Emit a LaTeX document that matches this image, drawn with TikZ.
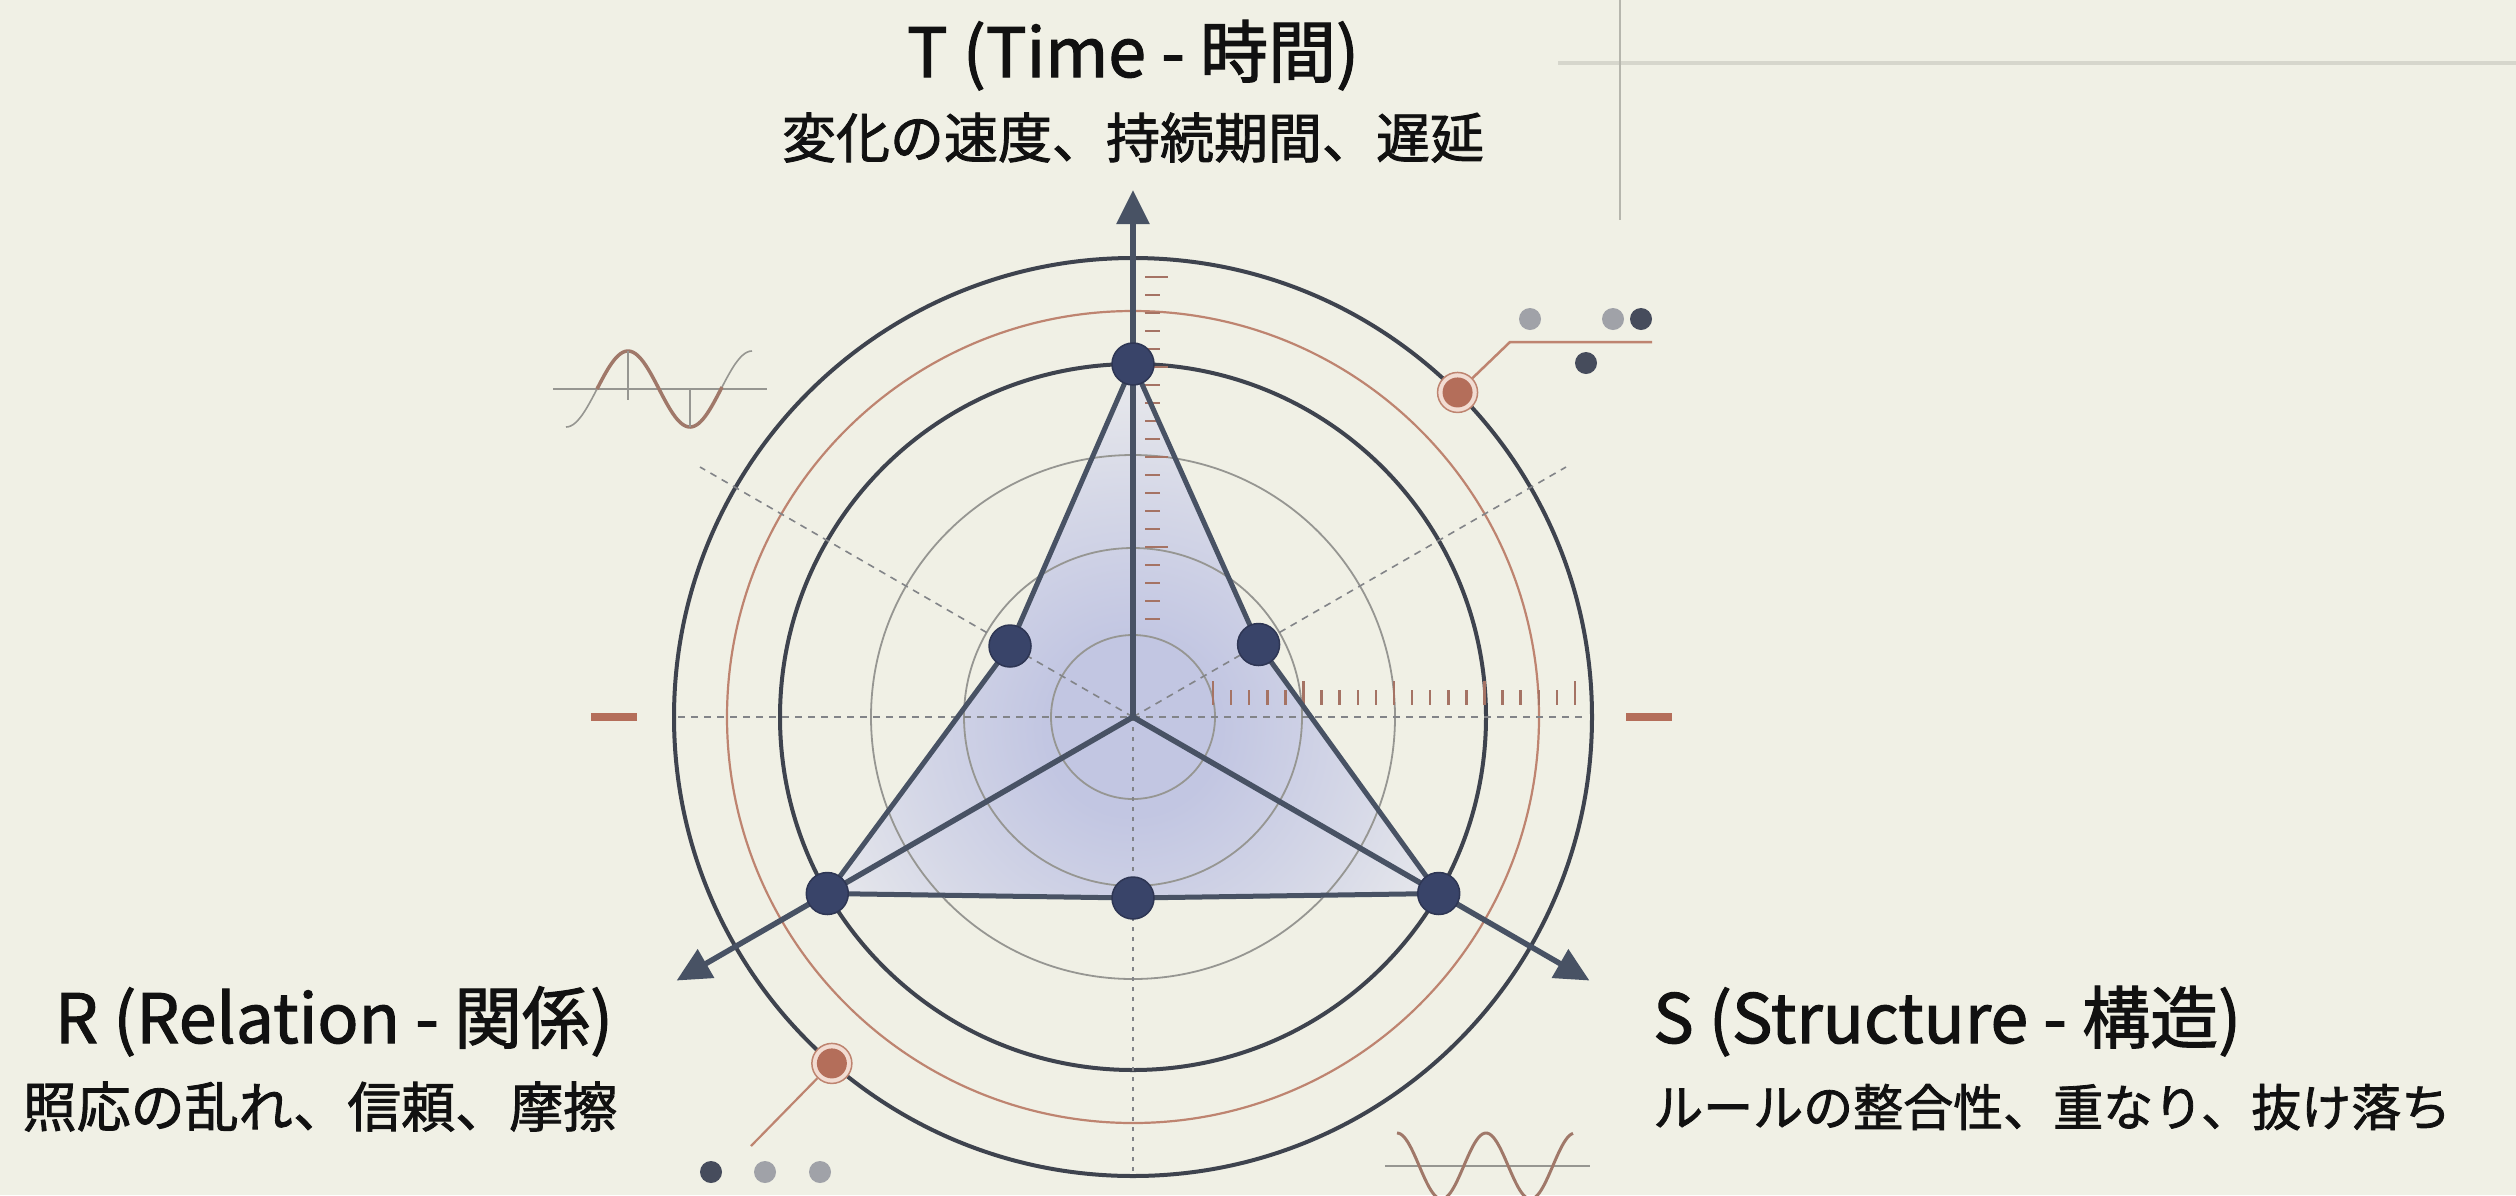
\documentclass[tikz,border=0pt]{standalone}
\usepackage{fontspec}
\setmainfont{Noto Sans CJK JP}
\newfontfamily\labelfont{Noto Sans CJK JP}[FakeBold=1.6]
\usetikzlibrary{arrows.meta,calc}
\definecolor{bg}{RGB}{240,240,229}
\definecolor{navy}{RGB}{57,68,105}
\definecolor{axisc}{RGB}{72,82,100}
\definecolor{ringd}{RGB}{62,67,78}
\definecolor{copper}{RGB}{190,132,112}
\definecolor{tickc}{RGB}{165,115,100}
\definecolor{thinc}{RGB}{150,150,146}
\definecolor{dashc}{RGB}{130,132,136}
\definecolor{shadein}{RGB}{194,198,226}
\definecolor{shadeout}{RGB}{232,233,236}
\definecolor{dotgray}{RGB}{160,162,168}
\definecolor{dotdark}{RGB}{70,76,92}
\definecolor{redc}{RGB}{180,110,90}
\definecolor{pale}{RGB}{242,220,210}
\definecolor{decoline}{RGB}{214,214,204}
\definecolor{waveb}{RGB}{160,120,105}
\definecolor{waveg}{RGB}{150,150,145}
\definecolor{textc}{RGB}{17,17,17}
\pgfdeclareradialshading{blob}{\pgfpoint{0bp}{0bp}}{color(0bp)=(shadein); color(5bp)=(shadein); color(13bp)=(shadein!50!shadeout); color(20bp)=(shadeout); color(50bp)=(shadeout)}
\tikzset{
 radar/.style={circle, fill=navy, draw=navy!80!black, line width=1.5, minimum size=42, inner sep=0},
 dotg/.style={circle, fill=dotgray, minimum size=22, inner sep=0},
 dotd/.style={circle, fill=dotdark, minimum size=22, inner sep=0},
 ringdark/.style={draw=ringd, line width=4},
 ringthin/.style={draw=thinc, line width=1.8},
 guide/.style={draw=dashc, line width=1.6, dash pattern=on 7 off 6},
 tickmark/.style={draw=tickc, line width=2.5},
 axisline/.style={draw=axisc, line width=5.5, -{Triangle[length=34pt,width=32pt]}},
 titletext/.style={font=\labelfont\fontsize{68}{80}\selectfont, inner sep=0, text=textc},
 subtext/.style={font=\labelfont\fontsize{54}{64}\selectfont, inner sep=0, text=textc},
 redring/.style={circle, draw=copper, fill=pale, line width=1.5, minimum size=40, inner sep=0},
 reddot/.style={circle, fill=redc, minimum size=30, inner sep=0},
}
\begin{document}
\begin{tikzpicture}[x=1pt,y=-1pt]
\useasboundingbox (0,0) rectangle (2516,1195);
\fill[bg] (0,0) rectangle (2516,1195);
\coordinate (C) at (1133,717);

% faint top-right frame lines
\draw[decoline, line width=4] (1558,63) -- (2516,63);
\draw[decoline!85!black, line width=1.8] (1620,0) -- (1620,220);

% radar points
\coordinate (pT) at ($(C)+(-90:353)$);
\coordinate (p150) at ($(C)+(-150:142)$);
\coordinate (pR) at ($(C)+(-210:353)$);
\coordinate (pB) at ($(C)+(-270:181)$);
\coordinate (pS) at ($(C)+(-330:353)$);
\coordinate (p30) at ($(C)+(-30:145)$);

% shaded area
\begin{scope}
\clip (pT) -- (p150) -- (pR) -- (pB) -- (pS) -- (p30) -- cycle;
\shade[shading=blob] ($(C)+(0,10)$) circle[radius=440];
\end{scope}

% rings
\draw[ringdark] (C) circle[radius=459];
\draw[copper, line width=2.2] (C) circle[radius=406];
\draw[ringdark] (C) circle[radius=353];
\draw[ringthin] (C) circle[radius=262];
\draw[ringthin] (C) circle[radius=169];
\draw[ringthin] (C) circle[radius=82];

% guides
\coordinate (hL) at ($(C)+(-455,0)$);
\coordinate (hR) at ($(C)+(455,0)$);
\coordinate (g30) at ($(C)+(-30:500)$);
\coordinate (g150) at ($(C)+(-150:500)$);
\coordinate (gDown) at ($(C)+(0,459)$);
\draw[guide] (hL) -- (hR);
\draw[guide] (C) -- (g30);
\draw[guide] (C) -- (g150);
\draw[guide, dash pattern=on 4 off 6] (C) -- (gDown);

% ticks
\foreach \k in {0,...,20} {
  \pgfmathsetmacro\xx{1213+18.1*\k}
  \pgfmathsetmacro\yy{ifthenelse(mod(\k,5)==0,681,690)}
  \draw[tickmark] (\xx,\yy) -- (\xx,705);
}
\foreach \k in {0,...,19} {
  \pgfmathsetmacro\yy{619-18*\k}
  \pgfmathsetmacro\xe{ifthenelse(mod(\k,5)==4,1168,1160)}
  \draw[tickmark] (1145,\yy) -- (\xe,\yy);
}

% side bars
\fill[redc] (591,713) rectangle (637,721);
\fill[redc] (1626,713) rectangle (1672,721);

% polygon
\draw[axisc, line width=5, line join=round] (pT) -- (p150) -- (pR) -- (pB) -- (pS) -- (p30) -- cycle;

% axes
\coordinate (tT) at ($(C)+(-90:527)$);
\coordinate (tR) at ($(C)+(-210:527)$);
\coordinate (tS) at ($(C)+(-330:527)$);
\draw[axisline] (C) -- (tT);
\draw[axisline] (C) -- (tR);
\draw[axisline] (C) -- (tS);

% radar nodes
\node[radar] (nT) at (pT) {};
\node[radar] (n150) at (p150) {};
\node[radar] (nR) at (pR) {};
\node[radar] (nB) at (pB) {};
\node[radar] (nS) at (pS) {};
\node[radar] (n30) at (p30) {};

% top-right marker
\node[redring] (ring1) at ($(C)+(-45:459)$) {};
\node[reddot] (red1) at (ring1) {};
\coordinate (k1) at (1510,342);
\coordinate (k1e) at (1652,342);
\draw[copper, line width=2.5] (ring1) -- (k1) -- (k1e);
\node[dotg] (g1) at (1530,319) {};
\node[dotg] (g2) at (1613,319) {};
\node[dotd] (d1) at (1641,319) {};
\node[dotd] (d2) at (1586,363) {};

% bottom-left marker
\node[redring] (ring2) at ($(C)+(-229:459)$) {};
\node[reddot] (red2) at (ring2) {};
\coordinate (k2) at (751,1146);
\draw[copper, line width=2.2] (ring2) -- (k2);
\node[dotd] (d3) at (711,1172) {};
\node[dotg] (g3) at (765,1172) {};
\node[dotg] (g4) at (820,1172) {};

% left wave
\draw[waveg, line width=1.6] (553,389) -- (767,389);
\draw[waveg, line width=1.6] plot[domain=0:186, samples=80] ({566+\x},{389+38*cos(2.9032*\x)});
\draw[waveb, line width=3.5] plot[domain=31:156, samples=60] ({566+\x},{389+38*cos(2.9032*\x)});
\draw[waveg, line width=1.4] (628,351) -- (628,400);
\draw[waveg, line width=1.4] (690,389) -- (690,427);

% bottom-right wave
\begin{scope}
\clip (0,0) rectangle (2516,1195);
\draw[waveg, line width=2] (1385,1166) -- (1590,1166);
\draw[waveb, line width=3] plot[domain=0:176, samples=100] ({1397+\x},{1166-33*cos(4.0449*\x)});
\end{scope}

% texts
\node[titletext, anchor=base] (Tt) at (1133,77) {T (Time - 時間)};
\node[subtext, anchor=base] (Ts) at (1133,158) {変化の速度、持続期間、遅延};
\node[titletext, anchor=base] (Rt) at (334,1043) {R (Relation - 関係)};
\node[subtext, anchor=base] (Rs) at (320,1127) {照応の乱れ、信頼、摩擦};
\node[titletext, anchor=base west] (St) at (1653,1043) {S (Structure - 構造)};
\node[subtext, anchor=base west, font=\labelfont\fontsize{50}{60}\selectfont] (Ss) at (1653,1126) {ルールの整合性、重なり、抜け落ち};
\end{tikzpicture}
\end{document}
